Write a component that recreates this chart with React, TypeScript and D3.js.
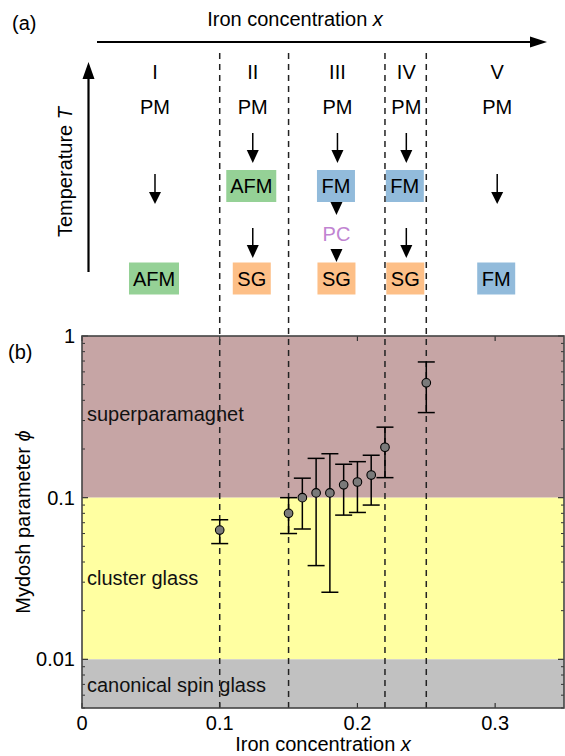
import React from "react";
import * as d3 from "d3";

const W = 565;
const H = 756;
const FONT = "'Liberation Sans', Arial, Helvetica, sans-serif";

// ---- panel (b) data ----
const ironX = [0.10, 0.15, 0.16, 0.17, 0.18, 0.19, 0.20, 0.21, 0.22, 0.25];
const phi = [0.063, 0.080, 0.100, 0.107, 0.107, 0.120, 0.125, 0.138, 0.205, 0.513];
const phiUpper = [0.073, 0.100, 0.132, 0.175, 0.187, 0.161, 0.167, 0.183, 0.273, 0.691];
const phiLower = [0.052, 0.060, 0.064, 0.038, 0.026, 0.078, 0.081, 0.090, 0.133, 0.336];

const boundaries = [0.10, 0.15, 0.22, 0.25];
const xTicks = [0, 0.1, 0.2, 0.3];
const xTickLabels = ["0", "0.1", "0.2", "0.3"];
const yTicks = [1, 0.1, 0.01];
const yTickLabels = ["1", "0.1", "0.01"];

const bandNames = ["superparamagnet", "cluster glass", "canonical spin glass"];
const bandTop = [1, 0.1, 0.01];
const bandBottom = [0.1, 0.01, 0.005];
const bandLabelAt = [0.33, 0.032, 0.0069];
const bandColors = ["#c6a5a5", "#ffffa1", "#c1c1c1"];

// ---- panel (a) data ----
const regions = ["I", "II", "III", "IV", "V"];
const regionCenters = [0.053, 0.124, 0.1855, 0.2355, 0.3015];
const midPhase = ["", "AFM", "FM", "FM", ""];
const lowPhase = ["AFM", "SG", "SG", "SG", "FM"];
const phaseColors: Record<string, string> = {
  AFM: "#95d196",
  FM: "#92bbdb",
  SG: "#fdbf87",
};

const x = d3.scaleLinear().domain([0, 0.35]).range([82, 564]);
const y = d3.scaleLog().domain([0.005, 1]).range([708, 336]);

function DownArrow({ cx, y1, y2, head = 13, hw = 6 }: { cx: number; y1: number; y2: number; head?: number; hw?: number }) {
  return (
    <g>
      {y2 - head > y1 && <line x1={cx} x2={cx} y1={y1} y2={y2 - head + 1} stroke="#000" strokeWidth={1.5} />}
      <path d={`M${cx - hw},${y2 - head} L${cx + hw},${y2 - head} L${cx},${y2} Z`} fill="#000" />
    </g>
  );
}

function PhaseBox({ cx, cy, label }: { cx: number; cy: number; label: string }) {
  const w = label === "AFM" ? 50 : 38;
  return (
    <g>
      <rect x={cx - w / 2} y={cy - 16} width={w} height={32} fill={phaseColors[label]} />
      <text x={cx} y={cy + 7} textAnchor="middle" fontSize={20} fill="#000">
        {label}
      </text>
    </g>
  );
}

export default function App() {
  const minorTicks: number[] = [];
  for (const dec of [0.001, 0.01, 0.1]) {
    for (let k = 2; k <= 9; k++) {
      const v = +(k * dec).toPrecision(3);
      if (v >= 0.005 && v < 1) minorTicks.push(v);
    }
  }
  const x0 = x.range()[0];
  const x1 = x.range()[1];
  const yTop = y.range()[1];
  const yBot = y.range()[0];

  return (
    <svg
      width={W}
      height={H}
      viewBox={`0 0 ${W} ${H}`}
      style={{ position: "absolute", left: 0, top: 0, display: "block", background: "#fff" }}
      fontFamily={FONT}
    >
      {/* ===== panel (a) ===== */}
      <text x={12} y={30} fontSize={20}>(a)</text>
      <text x={295} y={26} fontSize={20} textAnchor="middle">
        Iron concentration <tspan fontStyle="italic">x</tspan>
      </text>
      <line x1={97} x2={532} y1={42} y2={42} stroke="#000" strokeWidth={2} />
      <path d="M530,36.5 L547,42 L530,47.5 Z" fill="#000" />

      <line x1={88.5} x2={88.5} y1={272} y2={76} stroke="#000" strokeWidth={2.2} />
      <path d="M82.5,79 L88.5,62 L94.5,79 Z" fill="#000" />
      <text transform="translate(72,172) rotate(-90)" fontSize={20} textAnchor="middle">
        Temperature <tspan fontStyle="italic">T</tspan>
      </text>

      {regions.map((r, i) => {
        const cx = x(regionCenters[i]);
        return (
          <g key={r}>
            <text x={cx} y={79} textAnchor="middle" fontSize={20}>{r}</text>
            <text x={cx} y={114} textAnchor="middle" fontSize={20}>PM</text>
          </g>
        );
      })}

      {/* column arrows and phases */}
      {regions.map((r, i) => {
        const cx = x(regionCenters[i]);
        const mid = midPhase[i];
        const low = lowPhase[i];
        return (
          <g key={"col" + r}>
            {mid === "" && <DownArrow cx={cx} y1={174} y2={204} head={12} />}
            {mid !== "" && <DownArrow cx={cx} y1={133} y2={163} />}
            {mid !== "" && <PhaseBox cx={cx - 1.5} cy={186} label={mid} />}
            {mid === "AFM" || (mid === "FM" && r === "IV") ? (
              <DownArrow cx={cx} y1={228} y2={258} />
            ) : null}
            {mid === "FM" && r === "III" && (
              <g>
                <DownArrow cx={cx - 1} y1={202} y2={215} />
                <text x={cx - 1} y={240.5} textAnchor="middle" fontSize={20} fill="#c184d1">PC</text>
                <DownArrow cx={cx - 1} y1={249} y2={262} />
              </g>
            )}
            <PhaseBox cx={cx - 1} cy={278.5} label={low} />
          </g>
        );
      })}

      {/* ===== panel (b) ===== */}
      <text x={8} y={359} fontSize={20}>(b)</text>

      {bandNames.map((b, i) => (
        <rect
          key={b}
          x={x0}
          width={x1 - x0}
          y={y(bandTop[i])}
          height={y(bandBottom[i]) - y(bandTop[i])}
          fill={bandColors[i]}
        />
      ))}
      {bandNames.map((b, i) => (
        <text key={"l" + b} x={87} y={y(bandLabelAt[i]) + 7} fontSize={20} fill="#111">
          {b}
        </text>
      ))}

      {/* boundary dashed lines across both panels */}
      {boundaries.map((bx) => (
        <line
          key={"d" + bx}
          x1={x(bx)}
          x2={x(bx)}
          y1={53}
          y2={yBot}
          stroke="#222"
          strokeWidth={1.5}
          strokeDasharray="6,5"
        />
      ))}

      {/* y ticks */}
      {yTicks.map((t) => (
        <g key={"yt" + t}>
          <line x1={x0} x2={x0 + 6} y1={y(t)} y2={y(t)} stroke="#333" strokeWidth={1.2} />
          <line x1={x1} x2={x1 - 6} y1={y(t)} y2={y(t)} stroke="#333" strokeWidth={1.2} />
        </g>
      ))}
      {minorTicks.map((t) => (
        <g key={"ym" + t}>
          <line x1={x0} x2={x0 + 3} y1={y(t)} y2={y(t)} stroke="#333" strokeWidth={1} />
          <line x1={x1} x2={x1 - 3} y1={y(t)} y2={y(t)} stroke="#333" strokeWidth={1} />
        </g>
      ))}
      {yTicks.map((t, i) => (
        <text key={"ytl" + t} x={75} y={y(t) + 7} textAnchor="end" fontSize={20}>
          {yTickLabels[i]}
        </text>
      ))}

      {/* x ticks */}
      {xTicks.map((t, i) => (
        <g key={"xt" + t}>
          <line x1={x(t)} x2={x(t)} y1={yBot} y2={yBot - 5} stroke="#333" strokeWidth={1.2} />
          <line x1={x(t)} x2={x(t)} y1={yTop} y2={yTop + 5} stroke="#333" strokeWidth={1.2} />
          <text x={x(t)} y={730} textAnchor="middle" fontSize={20}>
            {xTickLabels[i]}
          </text>
        </g>
      ))}

      {/* frame */}
      <rect x={x0} y={yTop} width={x1 - x0} height={yBot - yTop} fill="none" stroke="#444" strokeWidth={1.6} />

      {/* error bars + points */}
      {ironX.map((xv, i) => {
        const cx = x(xv);
        return (
          <g key={"p" + i}>
            <line x1={cx} x2={cx} y1={y(phiLower[i])} y2={y(phiUpper[i])} stroke="#000" strokeWidth={1.5} />
            <line x1={cx - 8.5} x2={cx + 8.5} y1={y(phiUpper[i])} y2={y(phiUpper[i])} stroke="#000" strokeWidth={1.5} />
            <line x1={cx - 8.5} x2={cx + 8.5} y1={y(phiLower[i])} y2={y(phiLower[i])} stroke="#000" strokeWidth={1.5} />
            <circle cx={cx} cy={y(phi[i])} r={4.3} fill="#7a7a7a" stroke="#000" strokeWidth={1.1} />
          </g>
        );
      })}

      <text x={(x0 + x1) / 2} y={751} textAnchor="middle" fontSize={20}>
        Iron concentration <tspan fontStyle="italic">x</tspan>
      </text>
      <text transform={`translate(30,${(yTop + yBot) / 2}) rotate(-90)`} textAnchor="middle" fontSize={20}>
        Mydosh parameter <tspan fontStyle="italic">ϕ</tspan>
      </text>
    </svg>
  );
}
